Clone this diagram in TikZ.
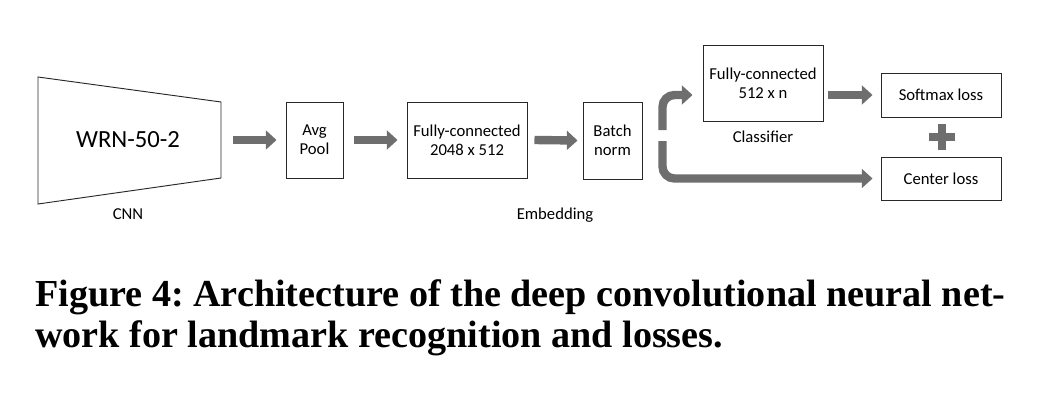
\documentclass[tikz,border=0pt]{standalone}
\usepackage{fontspec}
\setmainfont{Carlito}
\newfontfamily\capfont{Liberation Serif}
\usetikzlibrary{arrows.meta}
\definecolor{arrgray}{RGB}{110,110,110}
\definecolor{boxline}{RGB}{40,40,40}
\tikzset{
  box/.style={draw=boxline, line width=0.7pt, inner sep=0pt, align=center, font=\fontsize{12.5pt}{15pt}\selectfont},
  lbl/.style={inner sep=0pt, font=\fontsize{12.5pt}{15pt}\selectfont},
  arr/.style={draw=arrgray, line width=6.3pt, -{Triangle[length=8pt,width=14pt]}},
  bent/.style={arr, rounded corners=9pt},
  capline/.style={anchor=base west, inner sep=0pt, font=\capfont\bfseries\fontsize{28.6pt}{32pt}\selectfont\frenchspacing},
}
\begin{document}
\begin{tikzpicture}[x=0.75pt,y=-0.75pt]
\useasboundingbox (0,0) rectangle (1056,414);
% CNN trapezoid
\coordinate (tl) at (38,77);
\coordinate (bl) at (38,204);
\coordinate (tr) at (221,102);
\coordinate (br) at (221,178);
\draw[draw=boxline, line width=0.7pt] (tl) -- (tr) -- (br) -- (bl) -- cycle;
\node[inner sep=0pt, font=\fontsize{18.5pt}{22pt}\selectfont] (wrn) at (128,140) {WRN-50-2};
\coordinate (cnnout) at (221,140);
\node[lbl] (cnn) at (128,214) {CNN};
% boxes
\node[box, minimum width=42.75pt, minimum height=57pt] (avg) at (314.5,140) {Avg\\[-0.8pt]Pool};
\node[box, minimum width=90pt, minimum height=57pt] (fc1) at (467,140) {Fully-connected\\[-0.8pt]2048 x 512};
\node[box, minimum width=44.25pt, minimum height=57.75pt] (bn) at (612.5,140.5) {Batch\\[-0.8pt]norm};
\node[lbl] (emb) at (555,215) {Embedding};
\node[box, minimum width=90pt, minimum height=57pt] (fc2) at (763,83) {Fully-connected\\[-0.8pt]512 x n};
\node[lbl] (cls) at (763,137) {Classifier};
\node[box, minimum width=90pt, minimum height=33pt] (soft) at (941,95) {Softmax loss};
\node[box, minimum width=90pt, minimum height=32.25pt] (cent) at (941,178.5) {Center loss};
% plus
\coordinate (plus) at (942,137);
\fill[arrgray] ([shift={(-4.3,-13)}]plus) rectangle ([shift={(4.3,13)}]plus);
\fill[arrgray] ([shift={(-13,-4.3)}]plus) rectangle ([shift={(13,4.3)}]plus);
% straight arrows
\draw[arr] ([shift={(12,0)}]cnnout) -- ([shift={(-9,0)}]avg.west);
\draw[arr] ([shift={(11,0)}]avg.east) -- ([shift={(-9,0)}]fc1.west);
\draw[arr] ([shift={(7,0)}]fc1.east) -- ([shift={(-5,0)}]bn.west);
\coordinate (a4s) at (fc2.east |- soft.west);
\draw[arr] ([shift={(5,0)}]a4s) -- ([shift={(-8,0)}]soft.west);
% split arrows
\coordinate (splitup) at (662.5,130);
\coordinate (splitdn) at (662.5,141);
\coordinate (upend) at ([shift={(-10,0)}]fc2.west |- soft.west);
\draw[bent] (splitup) -- (splitup |- upend) -- (upend);
\draw[bent] (splitdn) -- (splitdn |- cent.west) -- ([shift={(-8,0)}]cent.west);
% caption
\node[capline] (cap1) at (35,306) {Figure 4: Architecture of the deep convolutional neural net-};
\node[capline] (cap2) at (35,347) {work for landmark recognition and losses.};
\end{tikzpicture}
\end{document}
